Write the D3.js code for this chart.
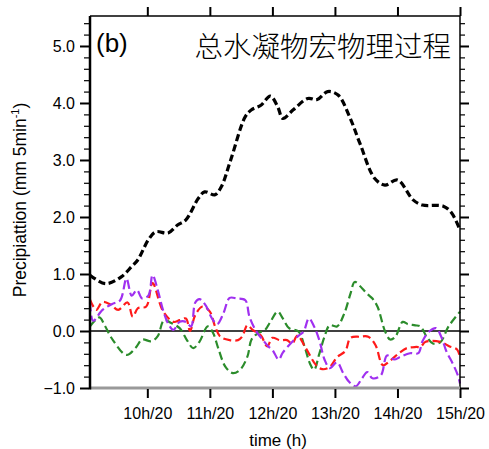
<!DOCTYPE html>
<html><head><meta charset="utf-8">
<script src="https://cdn.jsdelivr.net/npm/d3@7"></script>
<style>body{margin:0;background:#fff}svg{display:block}text{font-family:"Liberation Sans",Arial,sans-serif}</style>
</head><body>
<script>
// time in minutes after 09:00, values in mm 5min^-1
const blackT = [5,20,35,45,51,61,68,80,89,97,109,115,125,131,140,154,160,169,178,185,190,200,214,223,233,243,254,264,278,288,300,315,324,344,352,360];
const blackV = [0.98,0.83,0.95,1.13,1.25,1.6,1.74,1.72,1.86,1.95,2.33,2.44,2.39,2.53,3.0,3.76,3.88,3.96,4.12,3.94,3.73,3.88,4.08,4.06,4.20,4.14,3.76,3.29,2.68,2.56,2.65,2.30,2.21,2.19,2.07,1.77];

const redT = [5,11,17,25,32,41,46,51,59,65,75,85,91,97,101,106,113,120,125,130,139,147,151,156,161,169,175,180,187,194,199,204,212,222,228,235,242,250,255,264,272,279,286,293,302,309,318,322,327,341,350,357,360];
const redV = [0.55,0.37,0.51,0.46,0.37,0.50,0.25,0.40,0.43,0.84,0.35,0.16,0.19,0.22,0.0,0.28,0.43,0.34,0.08,-0.10,-0.16,-0.16,-0.10,0.10,0.02,-0.08,-0.27,-0.12,-0.16,-0.16,-0.22,-0.08,-0.30,-0.60,-0.67,-0.63,-0.46,-0.35,-0.12,-0.10,-0.10,-0.25,-0.60,-0.52,-0.38,-0.30,-0.28,-0.28,-0.19,-0.19,-0.27,-0.32,-0.45];

const purpleT = [5,8,17,27,34,40,45,50,55,61,65,70,75,80,85,91,97,102,106,110,116,122,127,133,139,146,154,158,165,171,176,180,186,190,200,206,210,215,220,225,230,235,242,248,254,260,266,271,276,284,290,297,302,312,320,324,331,337,342,347,353,358,360];
const purpleV = [0.50,0.18,0.37,0.48,0.54,0.92,0.62,0.72,0.57,0.62,0.98,0.72,0.37,0.13,0.02,0.16,0.16,0.08,0.50,0.56,0.45,0.22,0.12,0.31,0.58,0.57,0.54,0.25,-0.02,-0.16,-0.27,-0.33,-0.50,-0.38,-0.17,-0.07,-0.01,0.22,0.08,-0.16,-0.50,-0.65,-0.55,-0.74,-0.90,-0.97,-0.83,-0.72,-0.83,-0.78,-0.43,-0.50,-0.46,-0.39,-0.39,-0.18,0.0,0.05,-0.10,-0.36,-0.57,-0.78,-0.92];

const greenT = [5,14,19,27,40,49,55,64,70,76,82,91,98,104,110,118,123,128,135,142,149,156,160,166,173,178,185,190,196,205,211,216,220,225,230,235,242,249,255,259,266,271,276,281,288,293,298,305,310,317,322,328,334,341,349,360];
const greenV = [0.08,0.24,0.10,-0.16,-0.42,-0.29,-0.15,-0.18,-0.09,0.19,0.15,0.05,-0.16,-0.30,-0.19,0.08,-0.03,-0.30,-0.63,-0.74,-0.68,-0.45,-0.15,-0.04,0.02,0.16,0.34,0.22,0.05,-0.01,-0.28,-0.57,-0.68,-0.40,-0.10,0.10,0.08,0.31,0.66,0.86,0.75,0.65,0.57,0.42,0.0,-0.15,-0.10,0.16,0.12,0.10,0.08,-0.10,-0.22,-0.20,0.08,0.34];

const xTickMin = [60,120,180,240,300,360];
const xTickLabels = ["10h/20","11h/20","12h/20","13h/20","14h/20","15h/20"];
const yTicks = [-1,0,1,2,3,4,5];

const W=489,H=449;
const m={l:90,r:29,t:16,b:61};
const svg=d3.select("body").append("svg").attr("width",W).attr("height",H);
const x=d3.scaleLinear().domain([5,360]).range([m.l,W-m.r]);
const y=d3.scaleLinear().domain([-1,5.526]).range([H-m.b,m.t]);
const pw=W-m.l-m.r, ph=H-m.t-m.b;

// zero line
svg.append("line").attr("x1",m.l).attr("x2",W-m.r).attr("y1",y(0)).attr("y2",y(0)).attr("stroke","#000").attr("stroke-width",1.3);

const line=d3.line().x(d=>x(d[0])).y(d=>y(d[1])).curve(d3.curveCatmullRom.alpha(0.5));
const g=svg.append("g");
function draw(T,V,col,w,dash){
  g.append("path").datum(T.map((t,i)=>[t,V[i]])).attr("d",line).attr("fill","none")
   .attr("stroke",col).attr("stroke-width",w).attr("stroke-dasharray",dash).attr("stroke-linejoin","round");
}
draw(greenT,greenV,"#2b8c2b",2.2,"8,4");
draw(redT,redV,"#ff1a1a",2.2,"8,4");
draw(purpleT,purpleV,"#a030f0",2.2,"9,4");
draw(blackT,blackV,"#000",3.2,"7,3.5");

// frame
svg.append("line").attr("x1",m.l).attr("x2",W-m.r).attr("y1",m.t).attr("y2",m.t).attr("stroke","#000").attr("stroke-width",1.5);
svg.append("line").attr("x1",W-m.r).attr("x2",W-m.r).attr("y1",m.t).attr("y2",H-m.b).attr("stroke","#000").attr("stroke-width",1.5);
svg.append("line").attr("x1",m.l).attr("x2",W-m.r).attr("y1",H-m.b).attr("y2",H-m.b).attr("stroke","#999").attr("stroke-width",3);
svg.append("line").attr("x1",m.l).attr("x2",m.l).attr("y1",m.t).attr("y2",H-m.b+1.5).attr("stroke","#000").attr("stroke-width",2.5);

// left axis
const yl=svg.append("g").attr("transform",`translate(${m.l-1},0)`)
  .call(d3.axisLeft(y).tickValues(yTicks).tickFormat(d3.format(".1f")).tickSize(9).tickPadding(5));
yl.select(".domain").remove();
yl.selectAll("line").attr("stroke-width",2);
yl.selectAll("text").style("font-size","16px").attr("fill","#000");
const minor=d3.range(-1,5.5,0.2).filter(v=>Math.abs(v-Math.round(v))>1e-6);
svg.append("g").attr("transform",`translate(${m.l-1},0)`).call(d3.axisLeft(y).tickValues(minor).tickSize(5).tickFormat(""))
  .call(a=>a.select(".domain").remove()).selectAll("line").attr("stroke-width",1.2);
// right axis
svg.append("g").attr("transform",`translate(${W-m.r},0)`).call(d3.axisRight(y).tickValues(yTicks).tickSize(9).tickFormat(""))
  .call(a=>a.select(".domain").remove()).selectAll("line").attr("stroke-width",2);
svg.append("g").attr("transform",`translate(${W-m.r},0)`).call(d3.axisRight(y).tickValues(minor).tickSize(5).tickFormat(""))
  .call(a=>a.select(".domain").remove()).selectAll("line").attr("stroke-width",1.2);
// bottom axis
const xb=svg.append("g").attr("transform",`translate(0,${H-m.b+1})`)
  .call(d3.axisBottom(x).tickValues(xTickMin).tickSize(9).tickPadding(10).tickFormat((d,i)=>xTickLabels[i]));
xb.select(".domain").remove();
xb.selectAll("line").attr("stroke-width",2);
xb.selectAll("text").style("font-size","16px").attr("fill","#000");
// top axis
svg.append("g").attr("transform",`translate(0,${m.t})`).call(d3.axisTop(x).tickValues(xTickMin).tickSize(9).tickFormat(""))
  .call(a=>a.select(".domain").remove()).selectAll("line").attr("stroke-width",2);

// labels
svg.append("text").attr("x",m.l+pw/2+3).attr("y",446).attr("text-anchor","middle").style("font-size","17px").text("time (h)");
const yt=svg.append("text").attr("transform",`translate(26,${m.t+ph/2-2}) rotate(-90)`).attr("text-anchor","middle").style("font-size","17.5px");
yt.append("tspan").text("Precipiattion (mm 5min");
yt.append("tspan").attr("dy",-7).style("font-size","11px").text("-1");
yt.append("tspan").attr("dy",7).text(")");
svg.append("text").attr("x",96).attr("y",52).style("font-size","26px").text("(b)");
svg.append("text").attr("x",451).attr("y",57).attr("text-anchor","end").style("font-size","28.5px").style("font-weight","300")
  .style("font-family","'Noto Sans CJK SC',sans-serif").text("总水凝物宏物理过程");
</script>
</body></html>
